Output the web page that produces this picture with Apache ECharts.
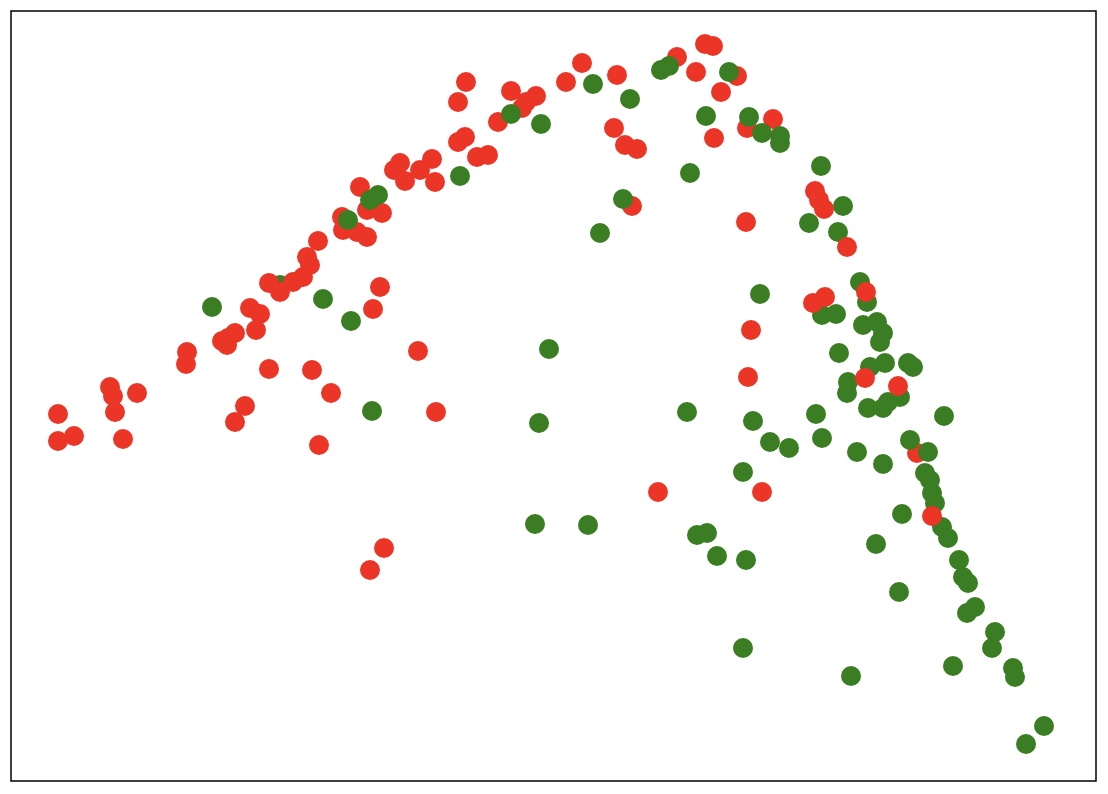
<!DOCTYPE html>
<html>
<head>
<meta charset="utf-8">
<script src="https://cdn.jsdelivr.net/npm/echarts@6/dist/echarts.min.js"></script>
<style>
html, body { margin: 0; padding: 0; background: #fff; }
#chart { width: 1108px; height: 794px; }
</style>
</head>
<body>
<div id="chart"></div>
<script>
// values, in its own plot units (x right, y down)
var greenBehind = [[280,285]];
var redBehind = [
    [58,414],[58,441],[74,436],[110,387],[113,396],[115,412],[123,439],[137,393],
    [187,352],[186,364],[222,341],[228,338],[235,333],[227,345],[250,308],[260,314],[256,330],[269,283],[269,369],[245,406],[235,422],
    [280,292],[293,282],[303,277],[307,257],[310,265],[318,241],[312,370],[331,393],[319,445],[380,287],[373,309],[418,351],[436,412],[370,570],[384,548],
    [360,187],[343,230],[342,217],[357,232],[367,237],[382,213],[367,210],
    [394,170],[400,163],[405,181],[420,170],[432,159],[435,182],[458,142],[465,137],[477,157],[488,155],[458,102],[466,82],[498,122],[511,91],[522,108],[526,102],[536,96],
    [566,82],[582,63],[617,75],[614,128],[625,145],[637,149],[632,206],
    [677,57],[705,44],[713,46],[696,72],[737,76],[721,92],[714,138],[747,128],[773,119],[746,222],[917,453]
];
var redOnTop = [
    [815,191],[819,200],[824,209],[847,247],[825,297],[813,303],[866,292],[751,330],[748,377],[658,492],[762,492],[865,378],[898,386],[932,516]
];
var green = [
    [212,307],[323,299],[351,321],[372,411],[348,220],[370,200],[378,195],[460,176],[511,114],[541,124],[593,84],[630,99],[661,70],[669,66],
    [729,72],[706,116],[749,117],[762,133],[780,136],[780,143],[690,173],[600,233],[623,199],[821,166],[843,206],[809,223],[838,232],[760,294],
    [549,349],[539,423],[535,524],[588,525],[687,412],[697,535],[707,533],[717,556],[746,560],[743,648],[743,472],[753,421],[770,442],[789,448],
    [860,282],[867,302],[822,315],[836,314],[863,325],[877,322],[883,333],[880,342],[839,353],[870,367],[885,363],[908,363],[913,367],
    [848,382],[847,393],[900,397],[888,402],[868,408],[883,408],[816,414],[944,416],[822,438],[857,452],[883,464],[910,440],[928,452],
    [925,473],[930,480],[932,493],[935,503],[902,514],[942,527],[948,538],[876,544],[959,560],[963,577],[968,583],[967,613],[975,607],
    [995,632],[992,648],[953,666],[1013,668],[1015,677],[899,592],[1044,726],[1026,744],[851,676]
];
var xRange = [11, 1096];
var yRange = [11, 781];

var chart = echarts.init(document.getElementById('chart'));
var dot = function (name, data, color) {
    return {
        name: name, type: 'scatter', data: data, symbolSize: 20,
        itemStyle: {color: color, opacity: 1},
        emphasis: {disabled: true}, animation: false
    };
};
chart.setOption({
    animation: false,
    grid: {left: 11, right: 12, top: 11, bottom: 13, show: true, borderColor: '#000', borderWidth: 1.5, backgroundColor: '#fff'},
    xAxis: {type: 'value', min: xRange[0], max: xRange[1], show: false},
    yAxis: {type: 'value', min: yRange[0], max: yRange[1], inverse: true, show: false},
    series: [
        dot('green', greenBehind, '#3a7d22'),
        dot('red', redBehind, '#ea3527'),
        dot('green', green, '#3a7d22'),
        dot('red', redOnTop, '#ea3527')
    ]
});
</script>
</body>
</html>
